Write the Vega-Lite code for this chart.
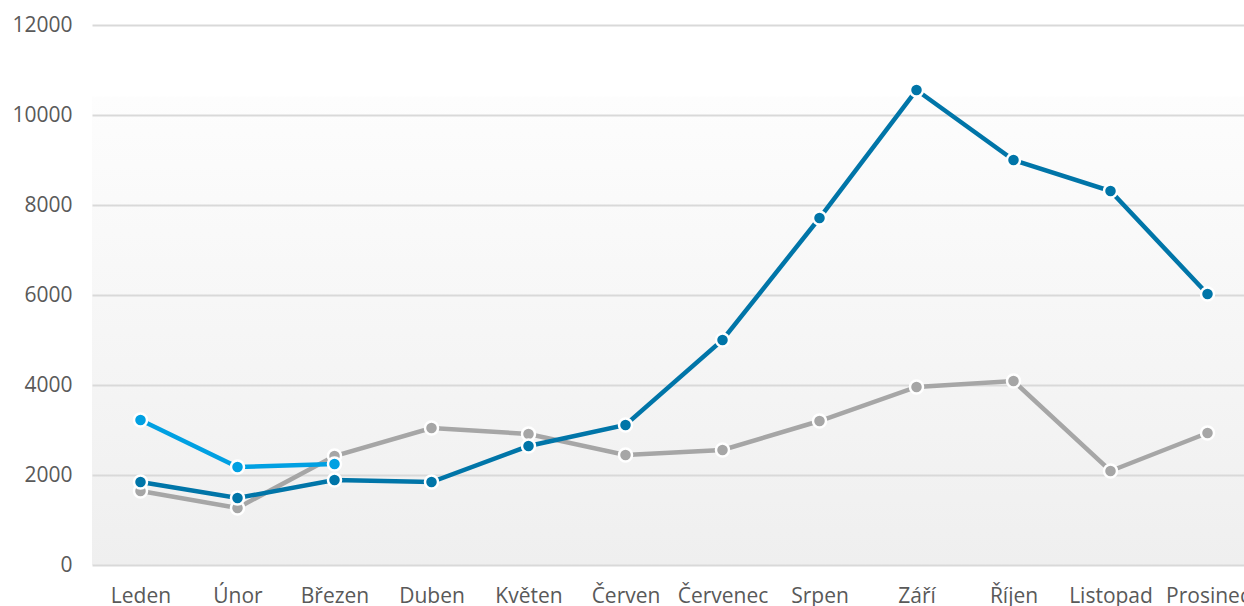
{
  "$schema": "https://vega.github.io/schema/vega-lite/v6.json",
  "width": 1164,
  "height": 540,
  "padding": {"left": 11, "top": 14, "right": 0, "bottom": 0},
  "background": "#ffffff",
  "config": {
    "font": "Open Sans",
    "view": {
      "stroke": null,
      "fill": {"gradient": "linear", "x1": 0, "y1": 0, "x2": 0, "y2": 1,
        "stops": [{"offset": 0, "color": "#ffffff"}, {"offset": 0.13, "color": "#ffffff"}, {"offset": 0.135, "color": "#fdfdfd"}, {"offset": 1, "color": "#efefef"}]}
    }
  },
  "data": {"values": [
    {"mesic": "Leden", "rada": "A", "hodnota": 1644},
    {"mesic": "Únor", "rada": "A", "hodnota": 1267},
    {"mesic": "Březen", "rada": "A", "hodnota": 2422},
    {"mesic": "Duben", "rada": "A", "hodnota": 3044},
    {"mesic": "Květen", "rada": "A", "hodnota": 2911},
    {"mesic": "Červen", "rada": "A", "hodnota": 2444},
    {"mesic": "Červenec", "rada": "A", "hodnota": 2556},
    {"mesic": "Srpen", "rada": "A", "hodnota": 3200},
    {"mesic": "Září", "rada": "A", "hodnota": 3956},
    {"mesic": "Říjen", "rada": "A", "hodnota": 4089},
    {"mesic": "Listopad", "rada": "A", "hodnota": 2089},
    {"mesic": "Prosinec", "rada": "A", "hodnota": 2933},
    {"mesic": "Leden", "rada": "B", "hodnota": 1844},
    {"mesic": "Únor", "rada": "B", "hodnota": 1489},
    {"mesic": "Březen", "rada": "B", "hodnota": 1889},
    {"mesic": "Duben", "rada": "B", "hodnota": 1844},
    {"mesic": "Květen", "rada": "B", "hodnota": 2644},
    {"mesic": "Červen", "rada": "B", "hodnota": 3111},
    {"mesic": "Červenec", "rada": "B", "hodnota": 5000},
    {"mesic": "Srpen", "rada": "B", "hodnota": 7711},
    {"mesic": "Září", "rada": "B", "hodnota": 10555},
    {"mesic": "Říjen", "rada": "B", "hodnota": 9000},
    {"mesic": "Listopad", "rada": "B", "hodnota": 8311},
    {"mesic": "Prosinec", "rada": "B", "hodnota": 6022},
    {"mesic": "Leden", "rada": "C", "hodnota": 3222},
    {"mesic": "Únor", "rada": "C", "hodnota": 2178},
    {"mesic": "Březen", "rada": "C", "hodnota": 2244}
  ]},
  "encoding": {
    "x": {"field": "mesic", "type": "ordinal", "sort": null,
      "scale": {"type": "point", "padding": 0.5, "domain": ["Leden","Únor","Březen","Duben","Květen","Červen","Červenec","Srpen","Září","Říjen","Listopad","Prosinec"]},
      "axis": {"title": null, "domain": false, "ticks": false, "tickSize": 0, "grid": false, "labelAngle": 0, "labelFontSize": 21, "labelColor": "#595959", "labelPadding": 31, "labelBaseline": "middle"}},
    "y": {"field": "hodnota", "type": "quantitative",
      "scale": {"domain": [0, 12000], "nice": false},
      "axis": {"title": null, "domain": false, "ticks": false, "tickSize": 0, "values": [0,2000,4000,6000,8000,10000,12000], "format": "d", "labelFontSize": 21, "labelColor": "#595959", "labelPadding": 20, "gridColor": "#d9d9d9", "gridWidth": 2}},
    "color": {"field": "rada", "type": "nominal", "legend": null,
      "scale": {"domain": ["A","B","C"], "range": ["#a6a6a6","#0075a8","#00a0e2"]}}
  },
  "layer": [
    {"transform": [{"filter": "datum.rada === 'A'"}], "mark": {"type": "line", "strokeWidth": 4.5}},
    {"transform": [{"filter": "datum.rada === 'A'"}], "mark": {"type": "point", "filled": true, "size": 170, "stroke": "#ffffff", "strokeWidth": 2.5, "opacity": 1}},
    {"transform": [{"filter": "datum.rada === 'B'"}], "mark": {"type": "line", "strokeWidth": 4.5}},
    {"transform": [{"filter": "datum.rada === 'B'"}], "mark": {"type": "point", "filled": true, "size": 170, "stroke": "#ffffff", "strokeWidth": 2.5, "opacity": 1}},
    {"transform": [{"filter": "datum.rada === 'C'"}], "mark": {"type": "line", "strokeWidth": 4.5}},
    {"transform": [{"filter": "datum.rada === 'C'"}], "mark": {"type": "point", "filled": true, "size": 170, "stroke": "#ffffff", "strokeWidth": 2.5, "opacity": 1}}
  ]
}
